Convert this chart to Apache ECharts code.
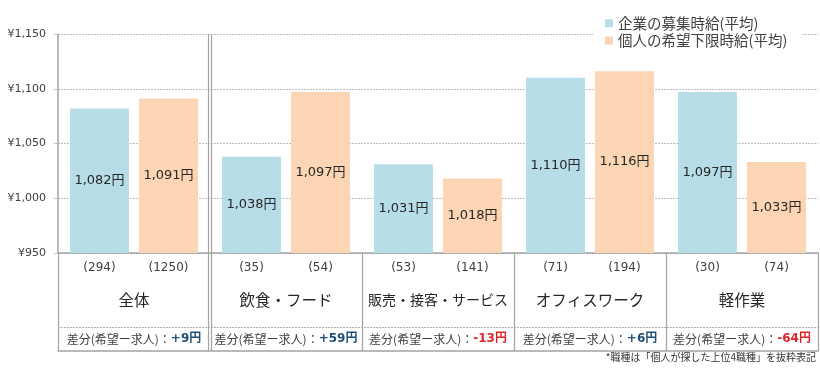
<!DOCTYPE html>
<html><head><meta charset="utf-8">
<script src="https://cdn.jsdelivr.net/npm/echarts@6/dist/echarts.min.js"></script>
<style>html,body{margin:0;padding:0;background:#fff}#c{width:820px;height:369px}</style>
</head><body><div id="c"></div>
<script>
const categories = ['全体', '飲食・フード', '販売・接客・サービス', 'オフィスワーク', '軽作業'];
const seriesNames = ['企業の募集時給(平均)', '個人の希望下限時給(平均)'];
const companyWage = [1082, 1038, 1031, 1110, 1097];
const personalWage = [1091, 1097, 1018, 1116, 1033];
const companyCount = [294, 35, 53, 71, 30];
const personalCount = [1250, 54, 141, 194, 74];
const wageDiff = [9, 59, -13, 6, -64];
const yMin = 950, yMax = 1150, yStep = 50;
const diffPrefix = '差分(希望ー求人)：';
const footnote = '*職種は「個人が探した上位4職種」を抜粋表記';
const groupSeparators = [0, 2, 3, 4, 5];   // category boundaries (band units)
const doubleSeparator = 1;                 // boundary drawn as a double line

const JP = '"Noto Sans CJK JP", sans-serif';
const NUM = '"DejaVu Sans", "Noto Sans CJK JP", sans-serif';
const LINE = '#a3a3a3';
const fmt = v => String(v).replace(/\B(?=(\d{3})+(?!\d))/g, ',');

const chart = echarts.init(document.getElementById('c'));
const barLabel = {
  show: true, position: 'inside', color: '#262626', fontSize: 13, fontFamily: NUM,
  formatter: p => fmt(p.value) + '円'
};
const sepLines = groupSeparators.map(x => ({ xAxis: x }))
  .concat([{ xAxis: doubleSeparator - 0.01 }, { xAxis: doubleSeparator + 0.01 }]);

chart.setOption({
  animation: false,
  textStyle: { fontFamily: JP },
  title: {
    text: footnote, right: 4, top: 352, padding: 0,
    textStyle: { fontSize: 10, fontWeight: 'normal', color: '#333', fontFamily: JP }
  },
  legend: {
    data: seriesNames, orient: 'vertical', left: 593, top: 8,
    padding: [8, 15, 6, 12], backgroundColor: '#fff',
    itemWidth: 8, itemHeight: 8, itemGap: 3, icon: 'rect', selectedMode: false,
    textStyle: { fontSize: 14.5, color: '#404040', fontFamily: JP }
  },
  grid: [
    { left: 58, right: 2, top: 34, bottom: 116 },
    { left: 58, right: 2, top: 253, bottom: 18 }
  ],
  xAxis: [
    { type: 'category', gridIndex: 0, data: categories,
      axisLine: { lineStyle: { color: LINE, width: 1.5 } },
      axisTick: { inside: true, length: 5, lineStyle: { color: LINE } },
      axisLabel: { show: false }, splitLine: { show: false } },
    { type: 'value', gridIndex: 0, min: 0, max: 5, show: false },
    { type: 'category', gridIndex: 1, position: 'top', data: categories,
      axisLine: { show: false }, axisTick: { show: false },
      axisLabel: {
        inside: true, margin: 0, interval: 0,
        formatter: (v, i) => '{a|(' + companyCount[i] + ')}{b|(' + personalCount[i] + ')}\n{' + (v.length > 7 ? 'm' : 'n') + '|' + v + '}',
        rich: {
          a: { width: 69, align: 'center', fontSize: 12, lineHeight: 30, color: '#404040', fontFamily: NUM },
          b: { width: 69, align: 'center', fontSize: 12, lineHeight: 30, color: '#404040', fontFamily: NUM },
          n: { align: 'center', fontSize: 15.5, lineHeight: 34, color: '#262626', fontFamily: JP },
          m: { align: 'center', fontSize: 14, lineHeight: 34, color: '#262626', fontFamily: JP }
        }
      } },
    { type: 'category', gridIndex: 1, position: 'bottom', data: categories,
      axisLine: { lineStyle: { color: LINE, width: 1.5 } }, axisTick: { show: false },
      axisLabel: {
        inside: true, margin: 4, interval: 0,
        formatter: (v, i) => {
          const d = wageDiff[i];
          const t = (d > 0 ? '+' : '') + d + '円';
          return '{t|' + diffPrefix + '}{' + (d >= 0 ? 'pos' : 'neg') + '|' + t + '}';
        },
        rich: {
          t: { fontSize: 12, color: '#404040', fontFamily: JP, lineHeight: 16 },
          pos: { fontSize: 12, color: '#1f4e79', fontWeight: 'bold', fontFamily: NUM, lineHeight: 16 },
          neg: { fontSize: 12, color: '#e0262b', fontWeight: 'bold', fontFamily: NUM, lineHeight: 16 }
        }
      } },
    { type: 'value', gridIndex: 1, min: 0, max: 5, show: false }
  ],
  yAxis: [
    { type: 'value', gridIndex: 0, min: yMin, max: yMax, interval: yStep,
      axisLine: { show: true, lineStyle: { color: LINE, width: 1.5 } },
      axisTick: { show: true, length: 4, lineStyle: { color: '#c4c4c4' } },
      axisLabel: { formatter: v => '¥' + fmt(v), fontSize: 11, color: '#404040', fontFamily: NUM, margin: 12 },
      splitLine: { lineStyle: { color: '#bdbdbd', type: [2, 1] } } },
    { type: 'value', gridIndex: 1, min: 0, max: 1, show: false }
  ],
  series: [
    { name: seriesNames[0], type: 'bar', xAxisIndex: 0, yAxisIndex: 0, data: companyWage,
      barWidth: 59, barGap: '17%', itemStyle: { color: '#B7DEE8' }, label: barLabel },
    { name: seriesNames[1], type: 'bar', xAxisIndex: 0, yAxisIndex: 0, data: personalWage,
      barWidth: 59, barGap: '17%', itemStyle: { color: '#FCD5B5' }, label: barLabel },
    { type: 'line', xAxisIndex: 1, yAxisIndex: 0, data: [], clip: false,
      markLine: { silent: true, symbol: ['none', 'none'], label: { show: false },
        lineStyle: { color: LINE, width: 1.2, type: 'solid' },
        data: [{ xAxis: doubleSeparator - 0.01 }, { xAxis: doubleSeparator + 0.01 }] } },
    { type: 'line', xAxisIndex: 4, yAxisIndex: 1, data: [], clip: false,
      markLine: { silent: true, symbol: ['none', 'none'], label: { show: false },
        lineStyle: { color: LINE, width: 1.2, type: 'solid' },
        data: sepLines.concat([{ yAxis: 0.245, lineStyle: { type: [2, 1], color: '#b0b0b0', width: 1 } }]) } }
  ]
});
</script></body></html>
